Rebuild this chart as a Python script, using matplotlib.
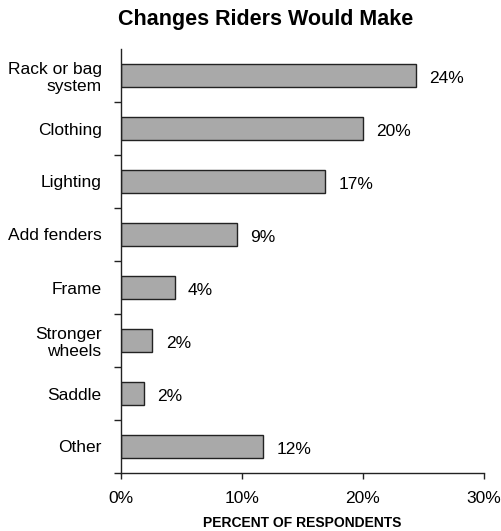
"""Horizontal bar chart: changes riders would make."""
import matplotlib
matplotlib.use("Agg")
import matplotlib.pyplot as plt

# data
categories = ["Rack or bag\nsystem", "Clothing", "Lighting", "Add fenders",
              "Frame", "Stronger\nwheels", "Saddle", "Other"]
percents = [24.4, 20.0, 16.9, 9.55, 4.45, 2.6, 1.9, 11.75]
value_labels = ["24%", "20%", "17%", "9%", "4%", "2%", "2%", "12%"]
x_ticks = [0, 10, 20, 30]

plt.rcParams["font.family"] = ["Liberation Sans", "DejaVu Sans"]

fig = plt.figure(figsize=(5.01, 5.31), dpi=100)
ax = fig.add_axes([121 / 501, 1 - 473 / 531, 363 / 501, 424 / 531])

pos = list(range(len(categories)))
bars = ax.barh(pos, percents, height=0.42, color="#a9a9a9",
               edgecolor="#222222", linewidth=1.0)

for bar, lab in zip(bars, value_labels):
    ax.annotate(lab, (bar.get_width(), bar.get_y() + bar.get_height() / 2),
                xytext=(9.5, -2.5), textcoords="offset points",
                ha="left", va="center", fontsize=12.5, color="black")

ax.set_ylim(len(categories) - 0.5, -0.5)
ax.set_xlim(0, 30)

# boundary ticks between categories, labels at the centres
ax.set_yticks([p + 0.5 for p in pos])
ax.set_yticklabels([])
ax.set_yticks(pos, minor=True)
ax.set_yticklabels(categories, minor=True, fontsize=12.5)
ax.tick_params(axis="y", which="major", length=5, width=1, direction="out",
               color="#222222")
ax.tick_params(axis="y", which="minor", length=0, pad=14)

ax.set_xticks(x_ticks)
ax.set_xticklabels([f"{t}%" for t in x_ticks], fontsize=12.5)
ax.tick_params(axis="x", length=4, width=1, direction="out", pad=9,
               color="#222222")

for side in ["top", "right"]:
    ax.spines[side].set_visible(False)
for side in ["left", "bottom"]:
    ax.spines[side].set_linewidth(1)
    ax.spines[side].set_color("#222222")

ax.set_xlabel("PERCENT OF RESPONDENTS", fontsize=10, fontweight="bold",
              labelpad=7)
fig.text(266 / 501, 1 - 20 / 531, "Changes Riders Would Make",
         ha="center", va="center", fontsize=15.5, fontweight="bold")

fig.savefig("out.png", dpi=100)
